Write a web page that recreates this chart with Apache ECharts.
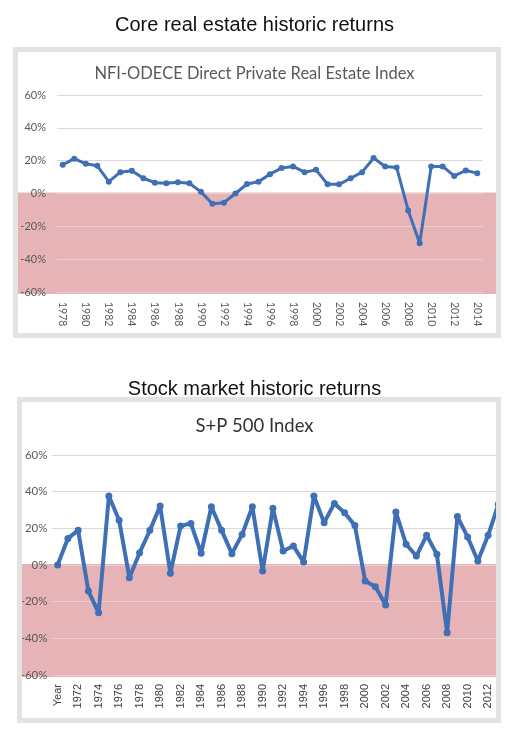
<!DOCTYPE html>
<html lang="en">

<head>
    <meta charset="UTF-8">
    <title>Historic returns</title>
    <script src="https://cdn.jsdelivr.net/npm/echarts@6/dist/echarts.min.js"></script>
    <style>
        body { margin: 0; background: #fff; }
    </style>
</head>

<body>
    <div id="main" style="width: 509px;height:730px;"></div>

    <script type="text/javascript">
        // Real estate index (NFI-ODCE), annual returns in %
        const reYears = ['1978', '1979', '1980', '1981', '1982', '1983', '1984', '1985', '1986', '1987',
            '1988', '1989', '1990', '1991', '1992', '1993', '1994', '1995', '1996', '1997',
            '1998', '1999', '2000', '2001', '2002', '2003', '2004', '2005', '2006', '2007',
            '2008', '2009', '2010', '2011', '2012', '2013', '2014'];
        const reReturns = [17.5, 21.2, 18.1, 16.9, 7.2, 13.0, 13.8, 9.3, 6.6, 6.2,
            6.8, 6.2, 1.0, -6.2, -5.6, 0.0, 5.8, 7.2, 11.8, 15.5,
            16.5, 13.0, 14.4, 5.6, 5.6, 9.3, 13.0, 21.6, 16.5, 15.9,
            -10.3, -30.3, 16.5, 16.5, 10.7, 14.0, 12.4];

        // S+P 500, annual returns in % (first row is the sheet header "Year")
        const spYears = ['Year', '1971', '1972', '1973', '1974', '1975', '1976', '1977', '1978', '1979',
            '1980', '1981', '1982', '1983', '1984', '1985', '1986', '1987', '1988', '1989',
            '1990', '1991', '1992', '1993', '1994', '1995', '1996', '1997', '1998', '1999',
            '2000', '2001', '2002', '2003', '2004', '2005', '2006', '2007', '2008', '2009',
            '2010', '2011', '2012', '2013'];
        const spReturns = [0, 14.5, 18.9, -14.2, -26.0, 37.6, 24.4, -6.9, 6.7, 18.9,
            32.2, -4.5, 21.3, 22.7, 6.4, 31.8, 18.9, 6.2, 16.7, 31.8,
            -3.3, 30.9, 7.6, 10.4, 1.6, 37.6, 23.1, 33.6, 28.5, 21.6,
            -8.7, -11.8, -21.8, 28.9, 11.3, 4.9, 16.2, 5.8, -36.9, 26.4,
            15.3, 2.2, 16.2, 33.1];

        const yTicks = [-60, -40, -20, 0, 20, 40, 60];

        const lineBlue = '#3f6fb5';
        const bandPink = '#e6b4b6';
        const gridGray = '#d9d9d9';
        const gridOnBand = '#eecdce';

        let myChart = echarts.init(document.getElementById('main'));

        function yAxisFor(gridIndex, fontSize, margin) {
            return {
                type: 'value',
                gridIndex: gridIndex,
                min: yTicks[0],
                max: yTicks[yTicks.length - 1],
                interval: 20,
                axisLine: { show: false },
                axisTick: { show: false },
                axisLabel: {
                    formatter: '{value}%',
                    color: '#595959',
                    fontFamily: 'Lato',
                    fontSize: fontSize,
                    margin: margin
                },
                splitLine: {
                    lineStyle: {
                        color: yTicks.map(t => t <= 0 ? gridOnBand : gridGray),
                        width: 1
                    }
                }
            };
        }

        let options = {
            animation: false,
            backgroundColor: '#fff',
            title: [
                {
                    text: 'Core real estate historic returns',
                    left: 'center', top: 10,
                    textStyle: { fontFamily: 'Liberation Sans', fontSize: 20, fontWeight: 'normal', color: '#111' }
                },
                {
                    text: 'NFI-ODECE Direct Private Real Estate Index',
                    left: 'center', top: 60,
                    textStyle: { fontFamily: 'Lato', fontSize: 16.5, fontWeight: 'normal', color: '#595959' }
                },
                {
                    text: 'Stock market historic returns',
                    left: 'center', top: 374,
                    textStyle: { fontFamily: 'Liberation Sans', fontSize: 20, fontWeight: 'normal', color: '#111' }
                },
                {
                    text: 'S+P 500 Index',
                    left: 'center', top: 412,
                    textStyle: { fontFamily: 'Lato', fontSize: 18.5, fontWeight: 'normal', color: '#333' }
                }
            ],
            grid: [
                { left: 57, top: 95, width: 426, height: 197 },
                { left: 52.5, top: 455, width: 451, height: 220 }
            ],
            xAxis: [
                {
                    type: 'category',
                    gridIndex: 0,
                    data: reYears,
                    boundaryGap: true,
                    axisLine: { show: false },
                    axisTick: { show: false },
                    axisLabel: {
                        interval: 1,
                        rotate: -90,
                        margin: 10,
                        color: '#595959',
                        fontFamily: 'Lato',
                        fontSize: 10.5
                    }
                },
                {
                    type: 'category',
                    gridIndex: 1,
                    data: spYears,
                    boundaryGap: true,
                    axisLine: { show: false },
                    axisTick: { show: false },
                    axisLabel: {
                        interval: 1,
                        rotate: 90,
                        margin: 9,
                        color: '#404040',
                        fontFamily: 'Liberation Sans',
                        fontSize: 11
                    }
                }
            ],
            yAxis: [
                yAxisFor(0, 11, 11),
                yAxisFor(1, 11.5, 5)
            ],
            series: [
                {
                    name: 'NFI-ODECE',
                    type: 'line',
                    xAxisIndex: 0, yAxisIndex: 0,
                    data: reReturns,
                    symbol: 'circle', symbolSize: 6,
                    showAllSymbol: true,
                    lineStyle: { color: lineBlue, width: 3 },
                    itemStyle: { color: lineBlue },
                    z: 5
                },
                {
                    name: 'S+P 500',
                    type: 'line',
                    xAxisIndex: 1, yAxisIndex: 1,
                    data: spReturns,
                    symbol: 'circle', symbolSize: 7,
                    showAllSymbol: true,
                    lineStyle: { color: lineBlue, width: 4 },
                    itemStyle: { color: lineBlue },
                    z: 5
                }
            ]
        };

        myChart.setOption(options);

        // pink "negative returns" bands span the whole panel width, y taken from the axes
        const topZero = myChart.convertToPixel({ yAxisIndex: 0 }, 0);
        const topLow = myChart.convertToPixel({ yAxisIndex: 0 }, yTicks[0]);
        const botZero = myChart.convertToPixel({ yAxisIndex: 1 }, 0);
        const botLow = myChart.convertToPixel({ yAxisIndex: 1 }, yTicks[0]);

        myChart.setOption({
            graphic: [
                {
                    type: 'rect', z: -1,
                    shape: { x: 18, y: topZero - 1, width: 478, height: topLow - topZero + 3 },
                    style: { fill: bandPink }
                },
                {
                    type: 'rect', z: -1,
                    shape: { x: 22, y: botZero - 1, width: 476, height: botLow - botZero + 3 },
                    style: { fill: bandPink }
                },
                // panel frames
                {
                    type: 'rect', z: 100,
                    shape: { x: 15.5, y: 49.5, width: 483, height: 286 },
                    style: { fill: 'none', stroke: '#e3e3e3', lineWidth: 5 }
                },
                {
                    type: 'rect', z: 100,
                    shape: { x: 500, y: 395, width: 9, height: 335 },
                    style: { fill: '#fff' }
                },
                {
                    type: 'rect', z: 101,
                    shape: { x: 19.5, y: 399.5, width: 479, height: 321 },
                    style: { fill: 'none', stroke: '#e3e3e3', lineWidth: 5 }
                }
            ]
        });
    </script>
</body>

</html>
